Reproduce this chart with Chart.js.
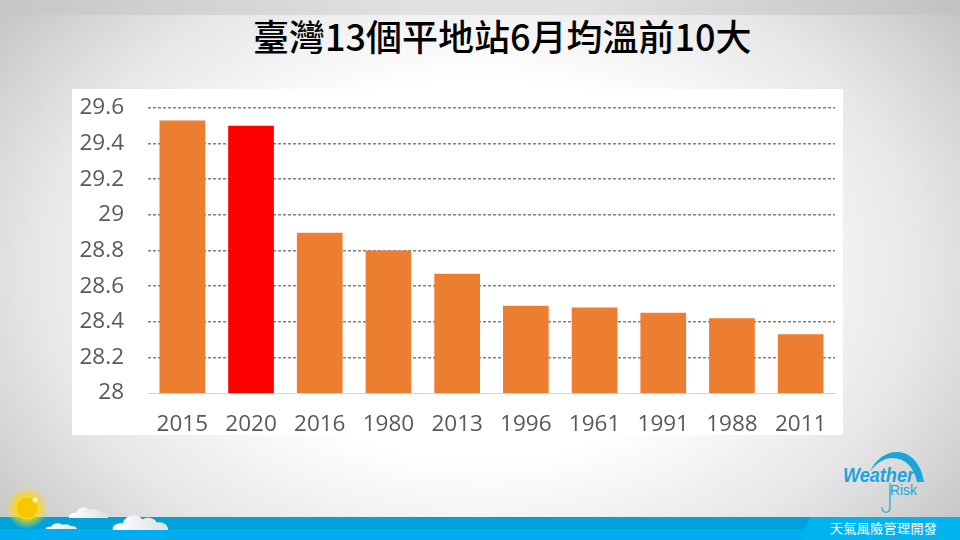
<!DOCTYPE html>
<html>
<head>
<meta charset="utf-8">
<script src="https://cdn.jsdelivr.net/npm/chart.js@4"></script>
<style>
  html, body { margin: 0; padding: 0; }
  #slide {
    position: relative; width: 960px; height: 540px; overflow: hidden;
    background: radial-gradient(ellipse 590px 420px at 480px 270px, #ffffff 45%, #e6e6e6 76%, #c8c8c8 100%);
    font-family: "Noto Sans CJK TC", sans-serif;
  }
  #topband {
    position: absolute; left: 0; top: 0; width: 960px; height: 15px;
    background: linear-gradient(to right, #c6c6c6, #e2e2e2 45%, #e2e2e2 60%, #c2c2c2);
  }
  #title {
    position: absolute; left: 253px; top: 10px; white-space: nowrap;
    font-size: 36px; line-height: 50px; font-weight: 500; color: #000;
  }
  #box { position: absolute; left: 72px; top: 89px; width: 771px; height: 346px; background: #fff; }
  #footer { position: absolute; left: 0; top: 0; }
  #tagline {
    position: absolute; left: 830px; top: 520px; white-space: nowrap;
    font-size: 13px; line-height: 16px; color: #fff; letter-spacing: 0.4px;
  }
</style>
</head>
<body>
<div id="slide">
  <div id="topband"></div>
  <svg id="footer" width="960" height="540">
    <defs>
      <radialGradient id="glow">
        <stop offset="0.5" stop-color="#ffd800" stop-opacity="0.85"/>
        <stop offset="1" stop-color="#ffe100" stop-opacity="0"/>
      </radialGradient>
      <linearGradient id="cloud" x1="0" y1="0" x2="1" y2="0">
        <stop offset="0" stop-color="#ffffff"/>
        <stop offset="1" stop-color="#e0e0e0"/>
      </linearGradient>
      <g id="puff">
        <path d="M0 20 C-2 14 6 11 11 12 C13 2 27 -2 33 7 C38 3 47 5 49 11 C56 9 62 14 62 20 Z" fill="url(#cloud)"/>
      </g>
    </defs>
    <rect x="0" y="517" width="960" height="23" fill="#00a3d9"/>
    <rect x="0" y="529" width="960" height="11" fill="#00aeef"/>
    <path d="M800 540 L810 517 L960 517 L960 540 Z" fill="#00b4f0"/>
    <circle cx="27" cy="508" r="21" fill="url(#glow)"/>
    <circle cx="27" cy="508" r="11" fill="#f5c800" stroke="#ffdf30" stroke-width="1"/>
    <circle cx="35" cy="500" r="2.5" fill="#fff8d0"/>
    <use href="#puff" transform="translate(69 506) scale(0.63 0.6)"/>
    <use href="#puff" transform="translate(46 522.6) scale(0.5 0.32)"/>
    <use href="#puff" transform="translate(113 513.6) scale(0.89 0.82)"/>
    <!-- logo -->
    <path d="M870 472 C882 444 918 444 924 482 L917 482 C912 454 884 450 870 472 Z" fill="#1ba5dc"/>
    <path d="M890 483 L890 507 C890 514 882 514 882 507" fill="none" stroke="#1ba5dc" stroke-width="1.2"/>
    <text x="843" y="482" font-family="Liberation Sans" font-size="20" font-weight="bold" font-style="italic" fill="#1ba5dc" textLength="71" lengthAdjust="spacingAndGlyphs">Weather</text>
    <text x="890" y="495" font-family="Liberation Sans" font-size="15" fill="#1ba5dc" textLength="27" lengthAdjust="spacingAndGlyphs">Risk</text>
  </svg>
  <div id="title">臺灣13個平地站6月均溫前10大</div>
  <div id="box"><canvas id="tempChart" width="771" height="346"></canvas></div>
  <div id="tagline">天氣風險管理開發</div>
</div>
<script>
// June mean temperature, top 10 years
var years = ["2015", "2020", "2016", "1980", "2013", "1996", "1961", "1991", "1988", "2011"];
var temps = [29.53, 29.50, 28.90, 28.80, 28.67, 28.49, 28.48, 28.45, 28.42, 28.33];
var barColors = ["#ed7d31", "#ff0000", "#ed7d31", "#ed7d31", "#ed7d31", "#ed7d31", "#ed7d31", "#ed7d31", "#ed7d31", "#ed7d31"];
var yMin = 28;
var yMax = 29.6;
var yStep = 0.2;

var ctx = document.getElementById("tempChart").getContext("2d");

new Chart(ctx, {
  type: "bar",
  data: {
    labels: years,
    datasets: [
      {
        data: temps,
        backgroundColor: barColors,
        borderWidth: 0,
        barPercentage: 0.665,
        categoryPercentage: 1
      }
    ]
  },
  options: {
    responsive: false,
    animation: false,
    layout: { padding: { top: 19, right: 8, left: 0, bottom: 0 } },
    plugins: {
      legend: { display: false },
      tooltip: { enabled: false }
    },
    scales: {
      x: {
        afterFit: function (axis) {
          axis.height = 42;
          axis.paddingLeft = 0;
          axis.paddingRight = 0;
        },
        grid: { display: false, drawTicks: false },
        border: { color: "#d4d4d4", width: 1 },
        ticks: {
          color: "#595959",
          padding: 18,
          maxRotation: 0,
          font: { family: "Open Sans", size: 22.5 }
        }
      },
      y: {
        min: yMin,
        max: yMax,
        afterFit: function (axis) {
          // tick padding would otherwise push the plot top down
          axis.width = 76;
          axis.paddingTop = 0;
          axis.paddingBottom = 0;
        },
        grid: {
          color: "#808080",
          drawTicks: false,
          // no dashed line on the baseline, the x axis border sits there
          lineWidth: function (context) {
            return context.tick && context.tick.value === yMin ? 0 : 1.5;
          }
        },
        border: { display: false, dash: [3, 2] },
        ticks: {
          stepSize: yStep,
          color: "#595959",
          padding: 24,
          font: { family: "Open Sans", size: 22.5 },
          callback: function (value) {
            return String(parseFloat(value.toFixed(1)));
          }
        }
      }
    }
  }
});
</script>
</body>
</html>
